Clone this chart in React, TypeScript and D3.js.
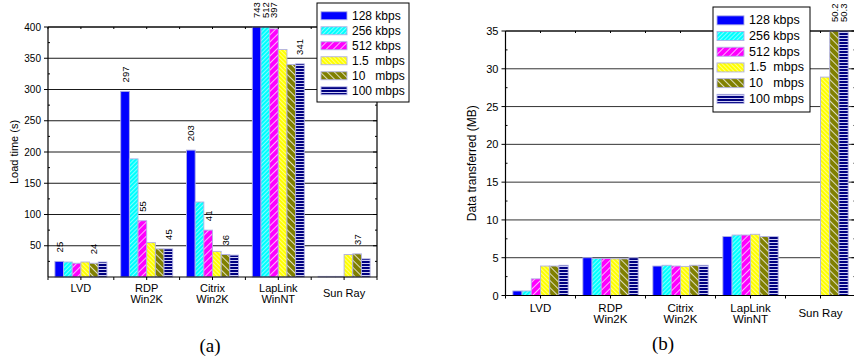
import * as d3 from "d3";

// categories, series and values
const categories = [["LVD"], ["RDP", "Win2K"], ["Citrix", "Win2K"], ["LapLink", "WinNT"], ["Sun Ray"]];
const seriesNames = ["128 kbps", "256 kbps", "512 kbps", "1.5  mbps", "10   mbps", "100 mbps"];

// (a) load time in seconds, one row per category, one column per bandwidth
const loadTime = [
  [25, 24, 22, 24, 22, 24],
  [297, 189, 90, 55, 45, 45],
  [203, 120, 75, 41, 36, 35],
  [743, 512, 397, 364, 340, 341],
  [1, 1, 1, 36, 37, 29]
];
// (b) data transferred in MB
const dataMB = [
  [0.6, 0.6, 2.2, 3.9, 3.9, 4.0],
  [5.0, 4.9, 4.9, 4.85, 4.85, 5.0],
  [3.9, 4.0, 3.9, 3.85, 4.0, 4.0],
  [7.8, 8.0, 8.0, 8.1, 7.8, 7.8],
  [0, 0, 0, 28.9, 50.2, 50.3]
];

const loadTicks = [50, 100, 150, 200, 250, 300, 350, 400];
const mbTicks = [0, 5, 10, 15, 20, 25, 30, 35];

// value labels: the bar they sit over, and their text
const loadLabels = [
  { cat: 0, s: 0, text: "25" },
  { cat: 0, s: 4, text: "24" },
  { cat: 1, s: 0, text: "297" },
  { cat: 1, s: 2, text: "55" },
  { cat: 1, s: 5, text: "45" },
  { cat: 2, s: 0, text: "203" },
  { cat: 2, s: 2, text: "41" },
  { cat: 2, s: 4, text: "36" },
  { cat: 3, s: 5, text: "341" },
  { cat: 4, s: 4, text: "37" }
];
// bars running off the top get their value printed above the frame
const loadTopLabels = [{ cat: 3, s: 0 }, { cat: 3, s: 1 }, { cat: 3, s: 2 }];
const mbTopLabels = [{ cat: 4, s: 4 }, { cat: 4, s: 5 }];

const fills = ["#0000ff", "#00ffff", "#ff00ff", "#ffff00", "#808000", "#000080"];
const barStroke = "#b0b0e4";
const sansFont = "'Liberation Sans', Arial, sans-serif";

function Patterns() {
  const diag = (id: string, color: string, size: number, w: number, angle: number) => (
    <pattern
      key={id}
      id={id}
      patternUnits="userSpaceOnUse"
      width={size}
      height={size}
      patternTransform={`rotate(${angle})`}
    >
      <rect width={size} height={size} fill={color} />
      <line x1={0} y1={0} x2={0} y2={size} stroke="#ffffff" strokeWidth={w} />
    </pattern>
  );
  return (
    <defs>
      <pattern id="pat-0" patternUnits="userSpaceOnUse" width={4} height={4}>
        <rect width={4} height={4} fill={fills[0]} />
      </pattern>
      {diag("pat-1", fills[1], 3, 1, 45)}
      {diag("pat-2", fills[2], 5, 1.4, 45)}
      {diag("pat-3", fills[3], 3, 1, -45)}
      {diag("pat-4", fills[4], 5, 1.5, -45)}
      <pattern id="pat-5" patternUnits="userSpaceOnUse" width={4} height={3}>
        <rect width={4} height={3} fill={fills[5]} />
        <rect y={2} width={4} height={1} fill="#d0d0f4" />
      </pattern>
    </defs>
  );
}

type LegendBox = {
  x: number;
  y: number;
  w: number;
  h: number;
  rowH: number;
  fontSize: number;
  swatchW: number;
  swatchH: number;
};

type PanelProps = {
  left: number;
  right: number;
  top: number;
  bottom: number;
  yMax: number;
  ticks: number[];
  minorStep: number;
  values: number[][];
  labels: { cat: number; s: number; text: string }[];
  topLabels: { cat: number; s: number }[];
  yTitle: string;
  titleX: number;
  titleSize: number;
  tickSize: number;
  catSize: number;
  catOffset: number;
  caption: string;
  captionX: number;
  captionY: number;
  legend: LegendBox;
  gridColor: string;
};

function Panel(p: PanelProps) {
  const x0 = d3
    .scaleBand<number>()
    .domain(d3.range(categories.length))
    .range([p.left, p.right])
    .padding(0);
  const bw = x0.bandwidth();
  const x1 = d3
    .scaleBand<number>()
    .domain(d3.range(seriesNames.length))
    .range([bw * 0.105, bw * 0.895])
    .padding(0);
  const y = d3.scaleLinear().domain([0, p.yMax]).range([p.bottom, p.top]);

  const barX = (c: number, s: number) => (x0(c) ?? 0) + (x1(s) ?? 0);
  const barCx = (c: number, s: number) => barX(c, s) + x1.bandwidth() / 2;
  const clip = (v: number) => Math.min(v, p.yMax);

  // category centres and boundaries get a tick
  const xTicks = d3.range(categories.length * 2 + 1).map((i) => p.left + (i * bw) / 2);
  const minor = d3.range(p.minorStep, p.yMax, p.minorStep * 2);
  const lg = p.legend;

  return (
    <g>
      {/* grid */}
      {p.ticks.map((t) => (
        <line key={`g${t}`} x1={p.left} x2={p.right} y1={y(t)} y2={y(t)} stroke={p.gridColor} strokeWidth={1} />
      ))}

      {/* bars */}
      {p.values.map((row, c) =>
        row.map((v, s) =>
          v > 0 ? (
            <rect
              key={`b${c}-${s}`}
              x={barX(c, s)}
              y={y(clip(v))}
              width={x1.bandwidth()}
              height={p.bottom - y(clip(v))}
              fill={`url(#pat-${s})`}
              stroke={barStroke}
              strokeWidth={0.9}
            />
          ) : null
        )
      )}

      {/* frame */}
      <line x1={p.left} x2={p.left} y1={p.top} y2={p.bottom} stroke="#000" strokeWidth={1.2} />
      <line x1={p.right} x2={p.right} y1={p.top} y2={p.bottom} stroke="#000" strokeWidth={1.2} />
      <line x1={p.left} x2={p.right} y1={p.bottom} y2={p.bottom} stroke="#000" strokeWidth={1.2} />
      <line x1={p.left} x2={p.right} y1={p.top} y2={p.top} stroke="#000" strokeWidth={1} />

      {/* y ticks and labels */}
      {p.ticks.map((t) => (
        <g key={`yt${t}`}>
          <line x1={p.left - 4} x2={p.left} y1={y(t)} y2={y(t)} stroke="#000" />
          <line x1={p.right} x2={p.right - 4} y1={y(t)} y2={y(t)} stroke="#000" />
          <text
            x={p.left - 7}
            y={y(t)}
            textAnchor="end"
            dominantBaseline="central"
            fontFamily={sansFont}
            fontSize={p.tickSize}
          >
            {t}
          </text>
        </g>
      ))}
      {minor.map((t) => (
        <g key={`ym${t}`}>
          <line x1={p.left} x2={p.left + 2} y1={y(t)} y2={y(t)} stroke="#000" />
          <line x1={p.right} x2={p.right - 2} y1={y(t)} y2={y(t)} stroke="#000" />
        </g>
      ))}

      {/* x ticks */}
      {xTicks.map((tx, i) => (
        <g key={`xt${i}`}>
          <line x1={tx} x2={tx} y1={p.bottom} y2={p.bottom + 3} stroke="#000" />
          <line x1={tx} x2={tx} y1={p.top} y2={p.top + 2} stroke="#000" />
        </g>
      ))}

      {/* category labels */}
      {categories.map((lines, c) => (
        <text
          key={`c${c}`}
          x={(x0(c) ?? 0) + bw / 2}
          y={p.bottom + p.catOffset + (lines.length === 1 && c === categories.length - 1 ? 5 : 0)}
          textAnchor="middle"
          dominantBaseline="central"
          fontFamily={sansFont}
          fontSize={p.catSize}
        >
          {lines.map((ln, i) => (
            <tspan key={i} x={(x0(c) ?? 0) + bw / 2} dy={i === 0 ? 0 : 11.7}>
              {ln}
            </tspan>
          ))}
        </text>
      ))}

      {/* value labels */}
      {p.labels.map((l, i) => {
        const lx = barCx(l.cat, l.s);
        const ly = y(clip(p.values[l.cat][l.s])) - 9;
        return (
          <text
            key={`l${i}`}
            transform={`translate(${lx},${ly}) rotate(-90)`}
            dominantBaseline="central"
            fontFamily={sansFont}
            fontSize={9.5}
          >
            {l.text}
          </text>
        );
      })}
      {p.topLabels.map((l, i) => (
        <text
          key={`tl${i}`}
          transform={`translate(${barCx(l.cat, l.s)},${p.top - 9}) rotate(-90)`}
          dominantBaseline="central"
          fontFamily={sansFont}
          fontSize={9.5}
        >
          {String(p.values[l.cat][l.s])}
        </text>
      ))}

      {/* y title */}
      <text
        transform={`translate(${p.titleX},${(p.top + p.bottom) / 2}) rotate(-90)`}
        textAnchor="middle"
        dominantBaseline="central"
        fontFamily={sansFont}
        fontSize={p.titleSize}
      >
        {p.yTitle}
      </text>

      {/* legend */}
      <rect x={lg.x} y={lg.y} width={lg.w} height={lg.h} fill="#fff" stroke="#000" strokeWidth={1} />
      {seriesNames.map((name, s) => {
        const cy = lg.y + lg.rowH * (s + 0.85);
        return (
          <g key={`lg${s}`}>
            <rect
              x={lg.x + 4}
              y={cy - lg.swatchH / 2}
              width={lg.swatchW}
              height={lg.swatchH}
              fill={`url(#pat-${s})`}
              stroke={barStroke}
              strokeWidth={0.9}
            />
            <text
              x={lg.x + lg.swatchW + 9}
              y={cy}
              dominantBaseline="central"
              fontFamily={sansFont}
              fontSize={lg.fontSize}
              style={{ whiteSpace: "pre" }}
            >
              {name}
            </text>
          </g>
        );
      })}

      {/* caption */}
      <text
        x={p.captionX}
        y={p.captionY}
        textAnchor="middle"
        dominantBaseline="central"
        fontFamily="'Liberation Serif', 'Times New Roman', serif"
        fontSize={19}
      >
        {p.caption}
      </text>
    </g>
  );
}

export default function App() {
  return (
    <svg
      width={854}
      height={360}
      viewBox="0 0 854 360"
      style={{ position: "absolute", left: 0, top: 0, background: "#fff" }}
    >
      <Patterns />
      <Panel
        left={48}
        right={377}
        top={27}
        bottom={277}
        yMax={400}
        ticks={loadTicks}
        minorStep={25}
        values={loadTime}
        labels={loadLabels}
        topLabels={loadTopLabels}
        yTitle="Load time (s)"
        titleX={14}
        titleSize={11}
        tickSize={10}
        catSize={11}
        catOffset={10.5}
        caption="(a)"
        captionX={210}
        captionY={345}
        legend={{ x: 317, y: 3, w: 92, h: 99, rowH: 15, fontSize: 12, swatchW: 26, swatchH: 8 }}
        gridColor="#1a1a1a"
      />
      <Panel
        left={505.5}
        right={855.5}
        top={31}
        bottom={295.5}
        yMax={35}
        ticks={mbTicks}
        minorStep={2.5}
        values={dataMB}
        labels={[]}
        topLabels={mbTopLabels}
        yTitle="Data transferred (MB)"
        titleX={472}
        titleSize={12}
        tickSize={11}
        catSize={11.5}
        catOffset={12}
        caption="(b)"
        captionX={663}
        captionY={343}
        legend={{ x: 713, y: 7, w: 97, h: 105, rowH: 15.7, fontSize: 12.5, swatchW: 27, swatchH: 9 }}
        gridColor="#333333"
      />
    </svg>
  );
}
